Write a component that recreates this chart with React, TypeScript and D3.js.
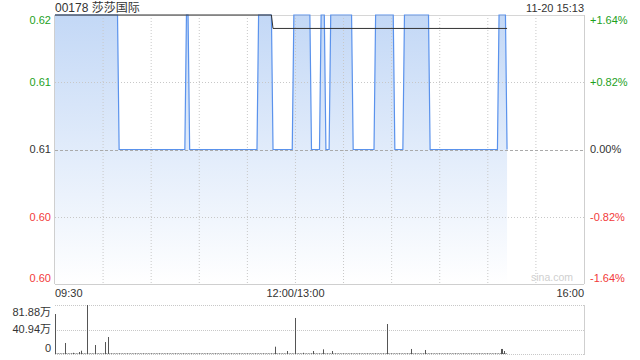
import React from "react";
import * as d3 from "d3";

const titleText = "00178 莎莎国际";
const dateText = "11-20 15:13";
const prevClose = 0.61;

const priceTimes = ["09:30","10:09","10:10","10:51","10:52","10:53","10:54","11:36","11:37","11:45","11:46","11:58","11:59","13:09","13:10","13:15","13:16","13:18","13:19","13:21","13:22","13:35","13:36","13:49","13:50","14:01","14:02","14:07","14:08","14:23","14:24","15:06","15:07","15:11","15:12"];
const priceValues = [0.62,0.62,0.61,0.61,0.62,0.62,0.61,0.61,0.62,0.62,0.61,0.61,0.62,0.62,0.61,0.61,0.62,0.62,0.61,0.61,0.62,0.62,0.61,0.61,0.62,0.62,0.61,0.61,0.62,0.62,0.61,0.61,0.62,0.62,0.61];

const avgTimes = ["09:30","11:45","11:46","15:12"];
const avgValues = [0.62,0.62,0.619,0.619];

const volTimes = ["09:30","09:36","09:41","09:45","09:46","09:50","09:55","10:01","10:03","11:47","11:55","13:00","13:05","13:11","13:17","13:23","13:57","14:12","14:21","15:08","15:09","15:10"];
const volValues = [66.8,18.4,2,3.3,5.5,81.88,15,20,28.4,12.2,5,60.2,2,5,7.8,5,50.1,8.4,6.7,8.4,8.4,5];

const priceTicks = [0.62, 0.615, 0.61, 0.605, 0.60];
const priceTickLabels = ["0.62", "0.61", "0.61", "0.60", "0.60"];
const pctTickLabels = ["+1.64%", "+0.82%", "0.00%", "-0.82%", "-1.64%"];
const volTicks = [81.88, 40.94, 0];
const volTickLabels = ["81.88万", "40.94万", "0"];
const timeGridMinutes = [0, 30, 60, 90, 120, 150, 180, 210, 240, 270, 300, 330];
const timeLabels = [
  { m: 0, text: "09:30", anchor: "start" },
  { m: 150, text: "12:00/13:00", anchor: "middle" },
  { m: 330, text: "16:00", anchor: "end" },
];

const FONT = "Arial, 'Liberation Sans', 'Noto Sans CJK SC', sans-serif";
const GREEN = "#1da11d";
const RED = "#f23a3a";

function toMinute(t: string): number {
  const [h, m] = t.split(":").map(Number);
  const tot = h * 60 + m;
  if (tot <= 720) return tot - 570;
  return tot - 780 + 150;
}

export default function App() {
  const W = 640, H = 360;
  const L = 55, R = 584, T = 15, B = 284;
  const VT = 305, VB = 354;

  const x = d3.scaleLinear().domain([0, 330]).range([L, R]);
  const y = d3.scaleLinear().domain([0.60, 0.62]).range([B, T]);
  const yv = d3.scaleLinear().domain([0, 81.88]).range([VB, VT]);

  const pts = priceTimes.map((t, i) => ({ m: toMinute(t), v: priceValues[i] }));
  const avgPts = avgTimes.map((t, i) => ({ m: toMinute(t), v: avgValues[i] }));

  const line = d3.line<{ m: number; v: number }>().x(d => x(d.m)).y(d => y(d.v));
  const area = d3.area<{ m: number; v: number }>().x(d => x(d.m)).y0(B).y1(d => y(d.v));

  const lastX = x(pts[pts.length - 1].m);

  const labelColor = (v: number) => (Math.abs(v - prevClose) < 1e-9 ? "#333" : v > prevClose ? GREEN : RED);
  const labelY = (i: number, n: number, yy: number) => (i === 0 ? yy + 5 : i === n - 1 ? yy - 6 : yy);

  return (
    <svg width={W} height={H} style={{ position: "absolute", left: 0, top: 0, fontFamily: FONT }}>
      <defs>
        <linearGradient id="fillGrad" gradientUnits="userSpaceOnUse" x1="0" y1={T} x2="0" y2={B}>
          <stop offset="0%" stopColor="#c3d8f6" />
          <stop offset="100%" stopColor="#ffffff" />
        </linearGradient>
      </defs>
      <rect x={0} y={0} width={W} height={H} fill="#fff" />

      {/* title */}
      <text x={L} y={12} fontSize={12} fill="#333">{titleText}</text>
      <text x={R} y={12} fontSize={11} fill="#333" textAnchor="end">{dateText}</text>

      {/* area + grid */}
      <path d={area(pts) || ""} fill="url(#fillGrad)" />

      {timeGridMinutes.slice(1, -1).map(m => (
        <line key={"vg" + m} x1={x(m)} x2={x(m)} y1={T} y2={B} stroke="#c8c8c8" strokeDasharray="1,2" />
      ))}
      {priceTicks.slice(1, -1).map(v => (
        <line key={"hg" + v} x1={L} x2={R} y1={Math.round(y(v)) + 0.5} y2={Math.round(y(v)) + 0.5}
          stroke={Math.abs(v - prevClose) < 1e-9 ? "#aaa" : "#c8c8c8"}
          strokeDasharray={Math.abs(v - prevClose) < 1e-9 ? "3,2" : "1,2"} />
      ))}

      {/* borders */}
      <line x1={L} x2={R} y1={T + 0.5} y2={T + 0.5} stroke="#d6d6d6" />
      <line x1={L - 0.5} x2={L - 0.5} y1={T} y2={B} stroke="#cfcfcf" />
      <line x1={R + 0.5} x2={R + 0.5} y1={T} y2={B} stroke="#cfcfcf" />
      <line x1={L} x2={R} y1={B + 0.5} y2={B + 0.5} stroke="#cfcfcf" />

      {/* price line and avg line */}
      <path d={line(pts) || ""} fill="none" stroke="#5a92ec" strokeWidth={1.2} />
      <path d={line(avgPts) || ""} fill="none" stroke="#333" strokeWidth={1} />

      {/* y labels */}
      {priceTicks.map((v, i) => (
        <text key={"pl" + i} x={51} y={labelY(i, priceTicks.length, y(v))} dy="0.35em" fontSize={11}
          textAnchor="end" fill={labelColor(v)}>{priceTickLabels[i]}</text>
      ))}
      {priceTicks.map((v, i) => (
        <text key={"pr" + i} x={590} y={labelY(i, priceTicks.length, y(v))} dy="0.35em" fontSize={11}
          textAnchor="start" fill={labelColor(v)}>{pctTickLabels[i]}</text>
      ))}

      {/* time labels */}
      {timeLabels.map(t => (
        <text key={t.text} x={x(t.m)} y={297} fontSize={11} fill="#333" textAnchor={t.anchor as any}>{t.text}</text>
      ))}

      <text x={573} y={281} fontSize={10.5} fill="#cfcfcf" textAnchor="end">sina.com</text>

      {/* volume panel */}
      <line x1={L} x2={R} y1={VT + 0.5} y2={VT + 0.5} stroke="#c8c8c8" strokeDasharray="1,1" />
      <line x1={L} x2={R} y1={Math.round(yv(40.94)) + 0.5} y2={Math.round(yv(40.94)) + 0.5} stroke="#c8c8c8" strokeDasharray="1,1" />
      <line x1={L} x2={R} y1={VB + 0.5} y2={VB + 0.5} stroke="#c8c8c8" strokeDasharray="1,1" />
      <line x1={R + 0.5} x2={R + 0.5} y1={VT} y2={VB + 1} stroke="#cfcfcf" />
      <line x1={L} x2={lastX} y1={VB - 0.5} y2={VB - 0.5} stroke="#888" strokeDasharray="1,0.6" />
      {volTimes.map((t, i) => (
        <line key={"vb" + i} x1={Math.round(x(toMinute(t))) + 0.5} x2={Math.round(x(toMinute(t))) + 0.5}
          y1={VB} y2={yv(volValues[i])} stroke="#555" strokeWidth={1} />
      ))}
      {volTicks.map((v, i) => (
        <text key={"vl" + i} x={51} y={i === 0 ? yv(v) + 7 : i === volTicks.length - 1 ? yv(v) - 5.5 : yv(v)} dy="0.35em"
          fontSize={11} textAnchor="end" fill="#333">{volTickLabels[i]}</text>
      ))}
    </svg>
  );
}
